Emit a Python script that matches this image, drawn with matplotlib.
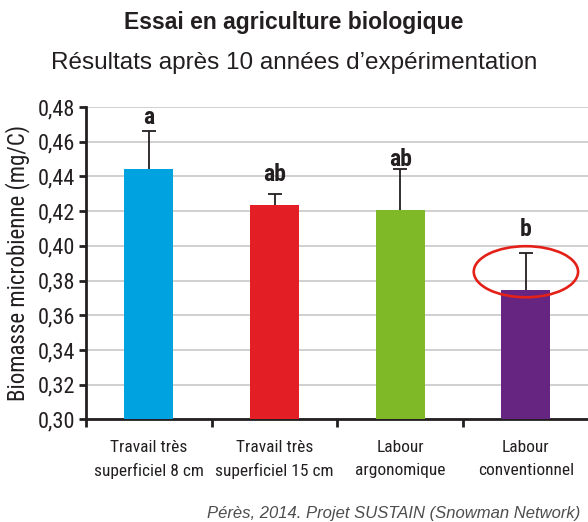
import matplotlib.pyplot as plt
from matplotlib.patches import Ellipse

# ------------------------------------------------------------
# Data
# ------------------------------------------------------------
categories = ["Travail très\nsuperficiel 8 cm", "Travail très\nsuperficiel 15 cm",
              "Labour\nargonomique", "Labour\nconventionnel"]
biomasse = [0.4445, 0.4238, 0.4209, 0.3747]
erreur_haute = [0.0218, 0.0059, 0.0231, 0.0212]
groupes = ["a", "ab", "ab", "b"]
groupes_y = [0.4738, 0.4411, 0.4497, 0.4093]
bar_colors = ["#00a3e0", "#e31e24", "#80b928", "#652581"]
y_ticks = [0.30, 0.32, 0.34, 0.36, 0.38, 0.40, 0.42, 0.44, 0.46, 0.48]

DARK = "#231f20"
NARROW = ["Roboto Condensed", "DejaVu Sans"]
REGULAR = ["Liberation Sans", "DejaVu Sans"]
COND = dict(family=NARROW, stretch="condensed")

fig = plt.figure(figsize=(5.88, 5.22), dpi=100)
ax = fig.add_axes([0.1463, 0.1964, 0.855, 0.5987])

x = list(range(len(categories)))
ax.bar(x, biomasse, width=0.39, color=bar_colors, zorder=3)
_, caps, _ = ax.errorbar(x, biomasse, yerr=[[0] * len(x), erreur_haute], fmt="none",
                         ecolor=DARK, elinewidth=1.3, capsize=4.8, capthick=1.3,
                         zorder=4)
caps[0].set_visible(False)  # no cap at the bar top

# significance letters
for xi, lettre, yl in zip(x, groupes, groupes_y):
    ax.text(xi, yl, lettre, ha="center", va="center", fontsize=17,
            fontweight="bold", color=DARK, zorder=5, **COND)

# highlight on the conventional tillage result
ax.add_patch(Ellipse((3.0, 0.3851), 0.83, 0.0294, fill=False,
                     edgecolor="#e32119", linewidth=1.9, zorder=6, clip_on=False))

ax.set_xlim(-0.5, 3.5)
ax.set_ylim(0.30, 0.48)
ax.set_yticks(y_ticks)
ax.set_yticklabels([f"{v:.2f}".replace(".", ",") for v in y_ticks],
                   fontsize=16, color=DARK, **COND)
ax.set_xticks([-0.5, 0.5, 1.5, 2.5, 3.5])
ax.set_xticklabels([])
ax.set_xticks(x, minor=True)
ax.set_xticklabels(categories, minor=True, fontsize=12.5, color=DARK,
                   linespacing=1.6, **COND)
ax.tick_params(axis="x", which="minor", length=0, pad=15)
ax.tick_params(axis="x", which="major", length=6, width=2, color=DARK, direction="out")
ax.tick_params(axis="y", length=5, width=2, color=DARK, direction="out", pad=3)

ax.grid(axis="y", color="#c8c8c8", linewidth=1.2, zorder=0)
ax.set_axisbelow(True)
for side in ("top", "right"):
    ax.spines[side].set_visible(False)
for side in ("left", "bottom"):
    ax.spines[side].set_linewidth(2)
    ax.spines[side].set_color(DARK)

ax.set_ylabel("Biomasse microbienne (mg/C)", fontsize=16.5, color=DARK, labelpad=5,
              **COND)

fig.text(0.5, 0.956, "Essai en agriculture biologique", ha="center", va="center",
         fontsize=16.5, fontweight="bold", family=REGULAR, color=DARK)
fig.text(0.5, 0.879, "Résultats après 10 années d’expérimentation", ha="center",
         va="center", fontsize=17.5, family=REGULAR, color=DARK)
fig.text(0.352, 0.017, "Pérès, 2014. Projet SUSTAIN (Snowman Network)", ha="left",
         va="center", fontsize=12.0, style="italic", family=REGULAR, color="#4d4d4d")

fig.savefig("out.png", dpi=100)
